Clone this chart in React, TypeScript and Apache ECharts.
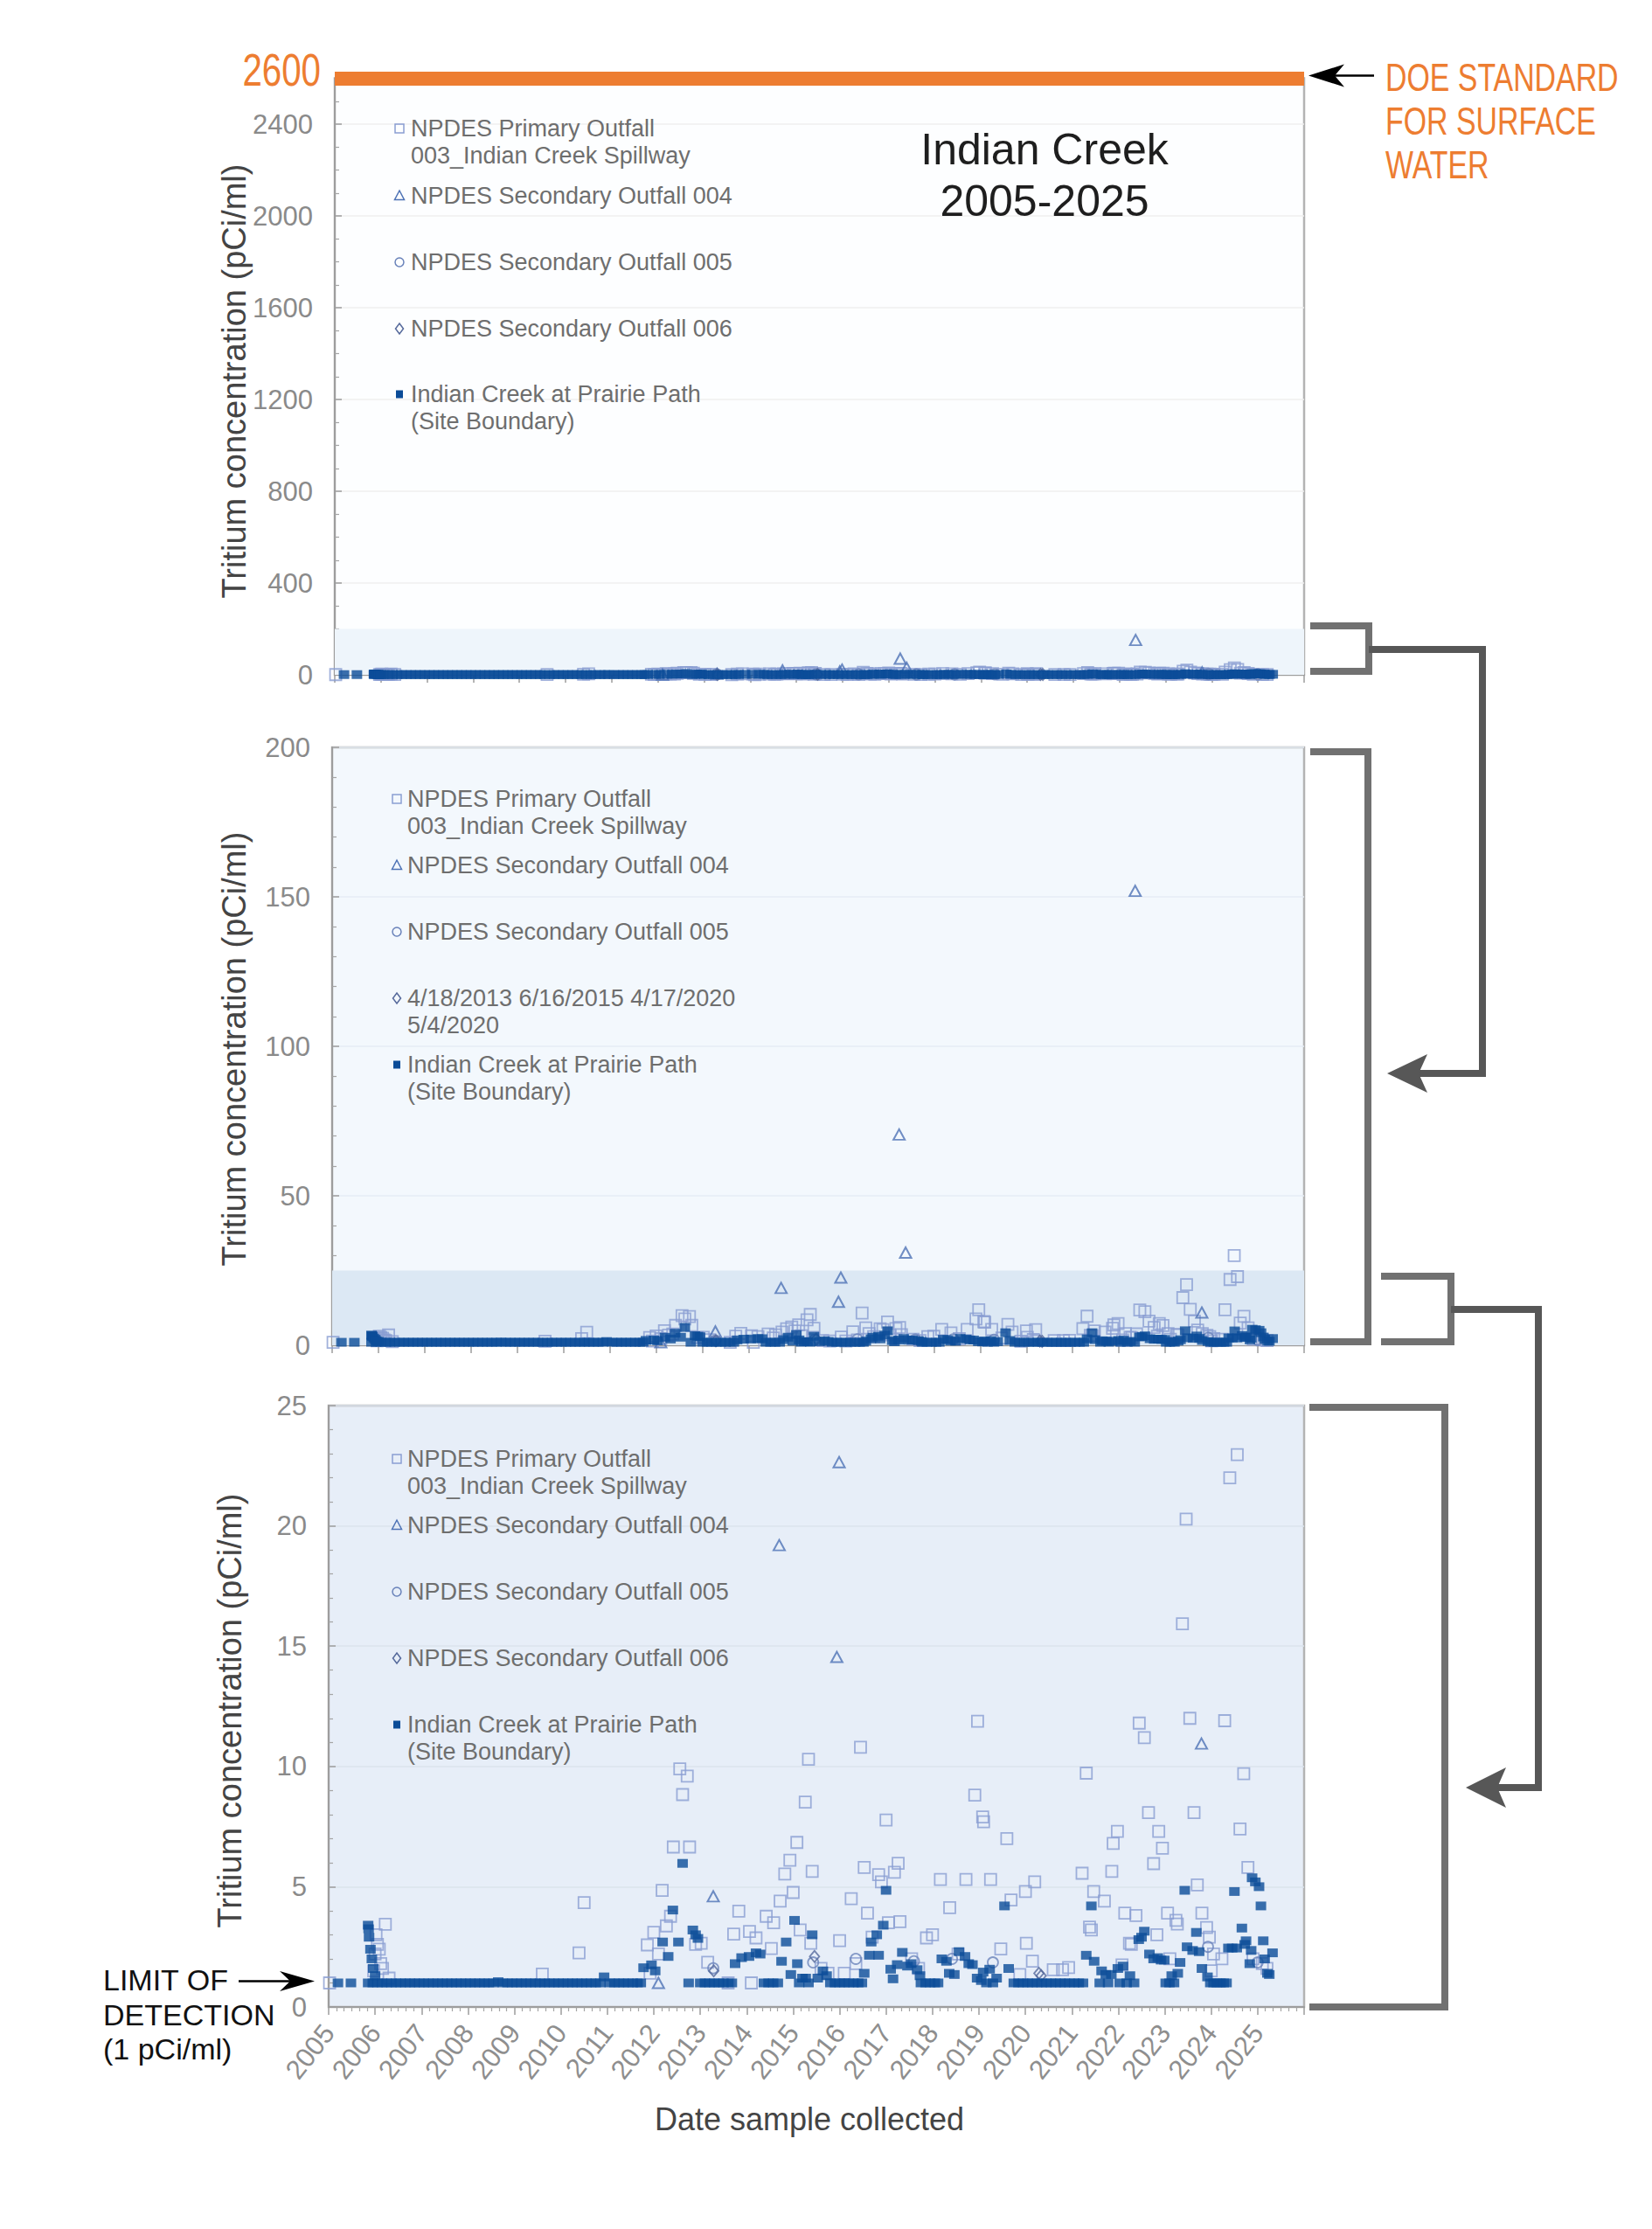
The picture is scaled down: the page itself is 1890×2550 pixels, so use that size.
import React, { useEffect, useRef } from "react";
import * as echarts from "echarts";

// ---------- data (decimal year, pCi/ml) ----------
const xMin = 2005;
const xMax = 2026;
const doeStandard = 2600;
const limitOfDetection = 1;

const outfall003 = [
  [2005.02, 1.0],
  [2005.97, 1.5], [2006.0, 2.2], [2006.02, 3.0], [2006.05, 2.6], [2006.09, 2.4], [2006.12, 1.8], [2006.16, 1.6], [2006.22, 3.44], [2006.3, 1.2],
  [2009.6, 1.37], [2010.39, 2.25], [2010.5, 4.34],
  [2011.86, 2.58], [2011.92, 1.4], [2012.0, 3.1], [2012.1, 2.2], [2012.18, 4.85], [2012.27, 3.37], [2012.36, 3.77], [2012.42, 6.65], [2012.56, 9.9], [2012.62, 8.83], [2012.72, 9.6], [2012.77, 6.65], [2012.9, 2.6],
  [2013.02, 2.65], [2013.16, 1.86], [2013.6, 1.0], [2013.72, 3.03], [2013.83, 3.98], [2014.06, 3.14], [2014.1, 1.0], [2014.2, 2.87], [2014.42, 3.77], [2014.53, 2.43], [2014.58, 3.5],
  [2014.72, 4.4], [2014.82, 5.53], [2014.93, 6.1], [2015.0, 4.76], [2015.08, 6.84], [2015.15, 3.2], [2015.26, 8.52], [2015.33, 10.3], [2015.38, 2.65], [2015.41, 5.64], [2015.6, 1.6], [2015.75, 1.4],
  [2016.0, 2.76], [2016.1, 1.4], [2016.25, 4.5], [2016.35, 1.8], [2016.45, 10.8], [2016.53, 5.8], [2016.6, 3.9], [2016.7, 2.9], [2016.84, 5.5], [2016.9, 5.2], [2017.0, 7.77], [2017.05, 3.5], [2017.18, 5.6], [2017.26, 5.97], [2017.3, 3.55], [2017.55, 2.0], [2017.7, 1.6], [2017.87, 2.87],
  [2018.0, 3.0], [2018.17, 5.3], [2018.37, 4.13], [2018.55, 2.2], [2018.72, 5.3], [2018.91, 8.81], [2018.97, 11.88], [2019.08, 7.9], [2019.1, 7.7], [2019.25, 5.3], [2019.47, 2.41], [2019.6, 7.0], [2019.69, 4.45], [2019.88, 1.35],
  [2020.0, 4.8], [2020.02, 2.65], [2020.15, 1.9], [2020.2, 5.2], [2020.6, 1.55], [2020.8, 1.55], [2020.93, 1.64],
  [2021.22, 5.56], [2021.31, 9.72], [2021.38, 3.32], [2021.42, 3.2], [2021.47, 4.8], [2021.7, 4.4], [2021.86, 5.64], [2021.89, 6.8], [2021.98, 7.3], [2022.08, 1.75], [2022.14, 3.9], [2022.24, 2.65], [2022.28, 2.6], [2022.38, 3.8],
  [2022.45, 11.8], [2022.56, 11.2], [2022.65, 8.08], [2022.76, 5.96], [2022.83, 3.0], [2022.87, 7.3], [2022.95, 6.6], [2023.06, 3.9], [2023.11, 2.0], [2023.24, 3.6], [2023.27, 3.45],
  [2023.38, 15.93], [2023.46, 20.28], [2023.54, 12.0], [2023.63, 8.08], [2023.7, 5.07], [2023.8, 3.9], [2023.9, 3.3], [2023.96, 2.9], [2024.0, 1.5], [2024.05, 2.2],
  [2024.23, 2.0], [2024.29, 11.9], [2024.4, 22.0], [2024.49, 30.0], [2024.56, 22.96], [2024.62, 7.4], [2024.7, 9.7], [2024.79, 5.8], [2024.9, 2.0], [2025.1, 1.8], [2025.2, 1.6],
];

const outfall004 = [
  [2012.1, 1.0], [2013.28, 4.6], [2014.7, 19.2], [2015.94, 14.55], [2015.99, 22.65],
  [2017.25, 70.5], [2017.39, 31.0], [2022.35, 152.0], [2023.79, 10.95],
];

const outfall005 = [
  [2013.28, 1.61], [2015.43, 1.85], [2016.35, 2.0], [2017.6, 1.9], [2018.42, 2.0],
  [2019.3, 1.85], [2023.93, 2.5], [2025.0, 1.85],
];

const outfall006 = [
  [2013.29, 1.5], [2015.46, 2.1], [2020.29, 1.4], [2020.34, 1.3],
];

// Indian Creek at Prairie Path: sample dates reported at the limit of detection
const creekAtLOD = [
  2005.2, 2005.48,
  2005.85, 2005.95,
  2006.05, 2006.15, 2006.25, 2006.35, 2006.45, 2006.55, 2006.65, 2006.75, 2006.85, 2006.95,
  2007.05, 2007.15, 2007.25, 2007.35, 2007.45, 2007.55, 2007.65, 2007.75, 2007.85, 2007.95,
  2008.05, 2008.15, 2008.25, 2008.35, 2008.45, 2008.55, 2008.75, 2008.85, 2008.95,
  2009.05, 2009.15, 2009.25, 2009.35, 2009.45, 2009.55, 2009.65, 2009.75, 2009.85, 2009.95,
  2010.05, 2010.15, 2010.25, 2010.35, 2010.45, 2010.55, 2010.65, 2010.75, 2010.85,
  2011.05, 2011.15, 2011.25, 2011.35, 2011.45, 2011.55, 2011.65, 2011.72,
  2012.75,
  2013.0, 2013.1, 2013.2, 2013.3, 2013.4, 2013.5, 2013.6, 2013.68,
  2014.37, 2014.47, 2014.57, 2014.67,
  2015.13, 2015.33,
  2015.8, 2015.9, 2016.0, 2016.1, 2016.2, 2016.3, 2016.4, 2016.48,
  2017.75, 2017.85, 2017.95, 2018.05, 2018.12,
  2019.16, 2019.3,
  2019.75, 2019.85, 2019.95, 2020.05, 2020.15, 2020.25, 2020.35, 2020.45, 2020.55, 2020.65, 2020.75, 2020.85, 2020.95, 2021.05, 2021.15, 2021.24,
  2021.6, 2021.78,
  2022.03, 2022.18, 2022.34,
  2023.02, 2023.1, 2023.2,
  2023.98, 2024.05, 2024.12, 2024.2, 2024.27, 2024.33,
];

const creekDetected = [
  [2005.85, 3.4], [2005.86, 3.25], [2005.87, 2.9], [2005.9, 2.4], [2005.93, 2.0], [2005.96, 1.6], [2006.0, 1.3],
  [2008.65, 1.05], [2010.93, 1.25],
  [2011.78, 1.63], [2011.95, 1.75], [2012.03, 1.5], [2012.19, 2.7], [2012.31, 2.1], [2012.41, 4.03], [2012.53, 2.7], [2012.62, 5.97], [2012.84, 3.2], [2012.9, 3.0], [2012.95, 2.85],
  [2013.75, 1.8], [2013.89, 2.05], [2014.05, 2.1], [2014.2, 2.25], [2014.29, 2.2],
  [2014.75, 1.9], [2014.85, 2.7], [2014.95, 1.35], [2015.03, 3.6], [2015.09, 1.8], [2015.2, 1.2], [2015.27, 1.2], [2015.41, 3.0], [2015.53, 1.2], [2015.64, 1.5], [2015.72, 1.3],
  [2016.53, 1.4], [2016.64, 2.15], [2016.68, 2.7], [2016.8, 3.0], [2016.84, 2.15], [2016.94, 3.4], [2017.0, 4.85], [2017.1, 1.57], [2017.15, 1.17], [2017.24, 1.76], [2017.35, 2.27], [2017.46, 1.7], [2017.54, 1.8], [2017.67, 1.55], [2017.73, 1.3],
  [2018.2, 2.0], [2018.3, 1.9], [2018.36, 1.4], [2018.47, 1.35], [2018.57, 2.3], [2018.7, 2.1], [2018.78, 1.8], [2018.86, 1.76], [2018.96, 1.2], [2019.05, 1.1], [2019.09, 1.45], [2019.23, 1.57], [2019.38, 1.2], [2019.55, 4.2], [2019.64, 1.6],
  [2021.31, 2.15], [2021.42, 4.2], [2021.48, 1.9], [2021.64, 1.5], [2021.73, 1.35], [2021.85, 1.35], [2021.99, 1.6], [2022.1, 1.7], [2022.25, 1.3],
  [2022.44, 2.8], [2022.5, 2.9], [2022.56, 3.15], [2022.67, 2.2], [2022.76, 2.0], [2022.85, 2.05], [2022.92, 1.95], [2022.99, 1.95], [2023.15, 1.3], [2023.28, 1.4], [2023.33, 1.85], [2023.43, 4.85], [2023.48, 2.5], [2023.6, 2.35], [2023.68, 3.1], [2023.74, 2.3], [2023.8, 1.6], [2023.92, 1.25],
  [2024.37, 2.45], [2024.45, 2.45], [2024.5, 4.8], [2024.55, 2.45], [2024.66, 3.28], [2024.72, 2.6], [2024.75, 2.75], [2024.83, 1.8], [2024.86, 2.35], [2024.88, 5.37], [2024.95, 5.2], [2025.03, 5.0], [2025.07, 4.2], [2025.12, 2.75], [2025.15, 2.0], [2025.21, 1.4], [2025.25, 1.35], [2025.32, 2.25],
];

const creek = [...creekAtLOD.map((d) => [d, limitOfDetection]), ...creekDetected];

const seriesNames = [
  "NPDES Primary Outfall 003_Indian Creek Spillway",
  "NPDES Secondary Outfall 004",
  "NPDES Secondary Outfall 005",
  "NPDES Secondary Outfall 006",
  "Indian Creek at Prairie Path (Site Boundary)",
];

const legendTop = [
  ["NPDES Primary Outfall", "003_Indian Creek Spillway"],
  ["NPDES Secondary Outfall 004"],
  ["NPDES Secondary Outfall 005"],
  ["NPDES Secondary Outfall 006"],
  ["Indian Creek at Prairie Path", "(Site Boundary)"],
];
const legendMid = [
  ["NPDES Primary Outfall", "003_Indian Creek Spillway"],
  ["NPDES Secondary Outfall 004"],
  ["NPDES Secondary Outfall 005"],
  ["4/18/2013 6/16/2015 4/17/2020", "5/4/2020"],
  ["Indian Creek at Prairie Path", "(Site Boundary)"],
];

// ---------- styling / layout ----------
const FONT = '"Liberation Sans", Arial, Helvetica, sans-serif';
const ORANGE = "#ED7D31";
const C003 = "#8a9ed2";
const C004 = "#4d72b5";
const C005 = "#6a83ba";
const C006 = "#55699b";
const CCREEK = "#0b4c98";

const panels = [
  { grid: { left: 383, top: 89.5, width: 1109, height: 682.5 }, bg: "#fdfeff", max: 2600, interval: 400, minor: 4, band: [0, 200], bandColor: "#eef5fb", split: "#efefef" },
  { grid: { left: 380, top: 855, width: 1112, height: 684 }, bg: "#f3f8fd", max: 200, interval: 50, minor: 5, band: [0, 25], bandColor: "#dce8f4", split: "#e6edf4" },
  { grid: { left: 376, top: 1608, width: 1116, height: 688 }, bg: "#e7eef8", max: 25, interval: 5, minor: 5, band: null, bandColor: "", split: "#dbe3ec" },
];

function txt(text: string, x: number, y: number, o: any = {}) {
  const align = o.align || "left";
  return {
    type: "text",
    x,
    y,
    silent: true,
    z: 100,
    rotation: o.rotation || 0,
    scaleX: o.scaleX || 1,
    style: {
      text,
      fill: o.color || "#333",
      fontSize: o.size || 20,
      fontFamily: FONT,
      fontWeight: o.weight || "normal",
      align,
      textAlign: align,
      verticalAlign: "middle",
      textVerticalAlign: "middle",
    },
  };
}

function legendSymbol(kind: number, cx: number, cy: number) {
  const open = { fill: "rgba(0,0,0,0)", lineWidth: 1.5 };
  if (kind === 0) return { type: "rect", z: 100, silent: true, shape: { x: cx - 5, y: cy - 5, width: 10, height: 10 }, style: { ...open, stroke: C003 } };
  if (kind === 1) return { type: "polygon", z: 100, silent: true, shape: { points: [[cx, cy - 6], [cx + 5.5, cy + 4.5], [cx - 5.5, cy + 4.5]] }, style: { ...open, stroke: C004 } };
  if (kind === 2) return { type: "circle", z: 100, silent: true, shape: { cx, cy, r: 5 }, style: { ...open, stroke: C005 } };
  if (kind === 3) return { type: "polygon", z: 100, silent: true, shape: { points: [[cx, cy - 6], [cx + 4.5, cy], [cx, cy + 6], [cx - 4.5, cy]] }, style: { ...open, stroke: C006 } };
  return { type: "rect", z: 100, silent: true, shape: { x: cx - 4, y: cy - 4.5, width: 8, height: 9 }, style: { fill: CCREEK } };
}

function legendBlock(labels: string[][], symX: number, textX: number, ys: number[]) {
  const out: any[] = [];
  labels.forEach((lines, i) => {
    out.push(legendSymbol(i, symX, ys[i]));
    lines.forEach((ln, j) => out.push(txt(ln, textX, ys[i] + j * 31, { size: 27, color: "#6e6e6e" })));
  });
  return out;
}

function stealthArrow(tipX: number, y: number, len: number, half: number, notch: number, color: string, dir: number) {
  return {
    type: "polygon",
    z: 100,
    silent: true,
    shape: {
      points: [
        [tipX, y],
        [tipX - dir * len, y - half],
        [tipX - dir * notch, y],
        [tipX - dir * len, y + half],
      ],
    },
    style: { fill: color },
  };
}

function poly(points: number[][], color: string, width: number) {
  return { type: "polyline", z: 100, silent: true, shape: { points }, style: { stroke: color, lineWidth: width, fill: "none", lineJoin: "miter", lineCap: "butt" } };
}

function buildOption() {
  const grid = panels.map((p) => ({ ...p.grid, show: true, backgroundColor: p.bg, borderColor: "#b3b3b3", borderWidth: 2.5, containLabel: false }));

  const xAxis = panels.map((p, i) => ({
    type: "value",
    gridIndex: i,
    min: xMin,
    max: xMax,
    interval: 1,
    axisLine: { show: true, onZero: false, lineStyle: { color: "#9d9d9d", width: 2 } },
    axisTick: { show: true, inside: false, length: 9, lineStyle: { color: "#9d9d9d", width: 1.5 } },
    minorTick: { show: i === 2, splitNumber: 6, length: 5, lineStyle: { color: "#a5a5a5", width: 1.2 } },
    splitLine: { show: false },
    axisLabel:
      i === 2
        ? {
            show: true,
            rotate: 52,
            margin: 24,
            fontSize: 31,
            fontFamily: FONT,
            color: "#8e8e8e",
            formatter: (v: number) => (v >= xMax ? "" : String(Math.round(v))),
          }
        : { show: false },
  }));

  const yAxis = panels.map((p, i) => ({
    type: "value",
    gridIndex: i,
    min: 0,
    max: p.max,
    interval: p.interval,
    axisLine: { show: true, lineStyle: { color: "#9d9d9d", width: 2 } },
    axisTick: { show: true, inside: true, length: 8, lineStyle: { color: "#9d9d9d", width: 1.5 } },
    minorTick: { show: true, splitNumber: p.minor, length: 5, lineStyle: { color: "#a5a5a5", width: 1.2 } },
    splitLine: { show: true, lineStyle: { color: p.split, width: 1.5 } },
    axisLabel: {
      show: true,
      margin: 25,
      fontSize: 31,
      fontFamily: FONT,
      color: "#8a8a8a",
      formatter: (v: number) => (i === 0 && v >= doeStandard ? "" : String(v)),
    },
  }));

  const series: any[] = [];
  panels.forEach((p, gi) => {
    const base = { type: "scatter", xAxisIndex: gi, yAxisIndex: gi, silent: true, clip: true };
    const s003: any = {
      ...base,
      name: seriesNames[0],
      data: outfall003,
      symbol: "rect",
      symbolSize: 13,
      itemStyle: { color: "rgba(255,255,255,0)", borderColor: C003, borderWidth: 1.8 },
    };
    if (p.band) {
      s003.markArea = {
        silent: true,
        itemStyle: { color: p.bandColor },
        data: [[{ yAxis: p.band[0] }, { yAxis: p.band[1] }]],
      };
    }
    if (gi === 0) {
      s003.markLine = {
        silent: true,
        symbol: ["none", "none"],
        label: { show: false },
        lineStyle: { color: ORANGE, width: 16, type: "solid", opacity: 1 },
        data: [{ yAxis: doeStandard }],
      };
    }
    series.push(s003);
    series.push({ ...base, name: seriesNames[1], data: outfall004, symbol: "triangle", symbolSize: [13, 12], itemStyle: { color: "rgba(255,255,255,0)", borderColor: C004, borderWidth: 2 } });
    series.push({ ...base, name: seriesNames[2], data: outfall005, symbol: "circle", symbolSize: 12, itemStyle: { color: "rgba(255,255,255,0)", borderColor: C005, borderWidth: 1.8 } });
    series.push({ ...base, name: seriesNames[3], data: outfall006, symbol: "diamond", symbolSize: [11, 13], itemStyle: { color: "rgba(255,255,255,0)", borderColor: C006, borderWidth: 1.8 } });
    series.push({ ...base, name: seriesNames[4], data: creek, symbol: "rect", symbolSize: [12, 10], itemStyle: { color: CCREEK }, z: 3 });
  });

  const yTitle = "Tritium concentration (pCi/ml)";
  const graphics: any[] = [
    txt(yTitle, 268, 436, { size: 38, color: "#444", rotation: Math.PI / 2, align: "center" }),
    txt(yTitle, 268, 1200, { size: 38, color: "#444", rotation: Math.PI / 2, align: "center" }),
    txt(yTitle, 263, 1957, { size: 38, color: "#444", rotation: Math.PI / 2, align: "center" }),
    txt("Date sample collected", 926, 2424, { size: 36, color: "#444", align: "center" }),
    txt(String(doeStandard), 367, 80, { size: 51, color: ORANGE, align: "right", scaleX: 0.79 }),
    txt("DOE STANDARD", 1585, 88, { size: 44, color: ORANGE, scaleX: 0.77 }),
    txt("FOR SURFACE", 1585, 138, { size: 44, color: ORANGE, scaleX: 0.77 }),
    txt("WATER", 1585, 188, { size: 44, color: ORANGE, scaleX: 0.77 }),
    poly([[1572, 86.5], [1525, 86.5]], "#000", 2.5),
    stealthArrow(1497, 86.5, 41, 13, 30, "#000", -1),
    txt("Indian Creek", 1195, 171, { size: 50, color: "#1e1e1e", align: "center" }),
    txt("2005-2025", 1195, 230, { size: 50, color: "#1e1e1e", align: "center" }),
    txt("LIMIT OF", 118, 2265, { size: 34, color: "#111" }),
    txt("DETECTION", 118, 2305, { size: 34, color: "#111" }),
    txt("(1 pCi/ml)", 118, 2344, { size: 34, color: "#111" }),
    poly([[273, 2266.5], [335, 2266.5]], "#000", 2.5),
    stealthArrow(360, 2266.5, 40, 11.5, 28, "#000", 1),
    poly([[1499, 716], [1566, 716], [1566, 768], [1499, 768]], "#717171", 8),
    poly([[1566, 743], [1696, 743], [1696, 1228], [1622, 1228]], "#575757", 8),
    stealthArrow(1587, 1228, 46, 22, 36, "#575757", -1),
    poly([[1499, 860], [1565, 860], [1565, 1535], [1499, 1535]], "#717171", 8),
    poly([[1580, 1460], [1660, 1460], [1660, 1535], [1580, 1535]], "#717171", 8),
    poly([[1660, 1498], [1760, 1498], [1760, 2045], [1712, 2045]], "#575757", 8),
    stealthArrow(1677, 2045, 46, 23, 36, "#575757", -1),
    poly([[1498, 1610], [1653, 1610], [1653, 2296], [1498, 2296]], "#717171", 8),
    ...legendBlock(legendTop, 457, 470, [147, 224, 300, 376, 451]),
    ...legendBlock(legendMid, 454, 466, [914, 990, 1066, 1142, 1218]),
    ...legendBlock(legendTop, 454, 466, [1669, 1745, 1821, 1897, 1973]),
  ];

  return {
    animation: false,
    backgroundColor: "#ffffff",
    textStyle: { fontFamily: FONT },
    grid,
    xAxis,
    yAxis,
    series,
    graphic: { elements: graphics },
  };
}

export default function App() {
  const ref = useRef<HTMLDivElement>(null);
  useEffect(() => {
    if (!ref.current) return;
    const chart = echarts.init(ref.current, null, { renderer: "svg" });
    chart.setOption(buildOption() as any);
    return () => chart.dispose();
  }, []);
  return (
    <div
      ref={ref}
      style={{ position: "absolute", left: 0, top: 0, width: 1890, height: 2550, background: "#ffffff" }}
    />
  );
}
